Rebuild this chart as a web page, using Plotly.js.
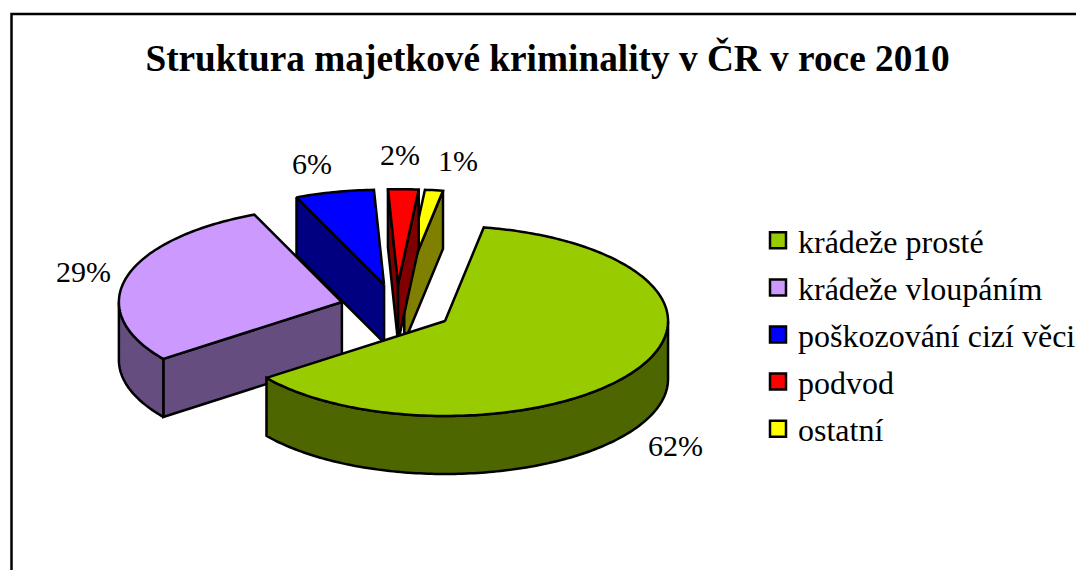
<!DOCTYPE html>
<html>
<head>
<meta charset="utf-8">
<script src="https://cdn.plot.ly/plotly-3.0.1.min.js"></script>
<style>html,body{margin:0;padding:0;background:#fff;overflow:hidden}#chart{width:1076px;height:570px}</style>
</head>
<body>
<div id="chart"></div>
<script>
// Data
const categories = ["krádeže prosté", "krádeže vloupáním", "poškozování cizí věci", "podvod", "ostatní"];
const shares = [62.0, 28.8, 5.7, 2.2, 1.3];
const topColors = ["#99CC00", "#CC99FF", "#0000FF", "#FF0000", "#FFFF00"];
const sideColors = ["#4D6600", "#664D80", "#000080", "#800000", "#808000"];
const chartTitle = "Struktura majetkové kriminality v ČR v roce 2010";

// Projection of the tilted pie
const pie = {cx: 396.7, cy: 308.3, rx: 223, ry: 95, depth: 58, explode: 0.2545, start: 10};
const labelPos = [[675, 445], [83, 271], [312, 163], [400, 154], [458, 160]];
const FONT = "Liberation Serif, Times New Roman, serif";

const rad = d => d * Math.PI / 180;
const total = shares.reduce((a, b) => a + b, 0);
let acc = pie.start;
const slices = shares.map((v, i) => {
  const a = acc, b = acc + v / total * 360;
  acc = b;
  const m = (a + b) / 2;
  return {i, a, b,
    ox: pie.cx + Math.sin(rad(m)) * pie.rx * pie.explode,
    oy: pie.cy - Math.cos(rad(m)) * pie.ry * pie.explode};
});
const rim = (s, t, dz = 0) => [s.ox + Math.sin(rad(t)) * pie.rx, s.oy - Math.cos(rad(t)) * pie.ry + dz];

function poly(pts, fill, name) {
  return {
    type: "scatter", mode: "lines", x: pts.map(p => p[0]), y: pts.map(p => p[1]),
    fill: "toself", fillcolor: fill, line: {color: "#000", width: 2.5, simplify: false},
    hoverinfo: "skip", showlegend: false, name: name
  };
}
function arc(s, from, to, dz) {
  const pts = [], n = Math.max(2, Math.ceil(Math.abs(to - from)));
  for (let k = 0; k <= n; k++) pts.push(rim(s, from + (to - from) * k / n, dz));
  return pts;
}

const traces = [];
// back-to-front painter's order
[4, 3, 2, 1, 0].forEach(idx => {
  const s = slices[idx], side = sideColors[idx], d = pie.depth, o = [s.ox, s.oy], od = [s.ox, s.oy + d];
  const name = categories[idx];
  // start cut wall
  if (Math.sin(rad(s.a)) < 0) traces.push(poly([o, rim(s, s.a), rim(s, s.a, d), od, o], side, name));
  // end cut wall
  if (Math.sin(rad(s.b)) > 0) traces.push(poly([o, rim(s, s.b), rim(s, s.b, d), od, o], side, name));
  // outer wall: the part of the arc facing the viewer (90..270 degrees)
  const lo = Math.max(s.a, 90), hi = Math.min(s.b, 270);
  if (hi > lo) traces.push(poly(arc(s, lo, hi, 0).concat(arc(s, hi, lo, d), [rim(s, lo)]), side, name));
  // top
  traces.push(poly([o].concat(arc(s, s.a, s.b, 0), [o]), topColors[idx], name));
});

// legend entries
categories.forEach((c, i) => traces.push({
  type: "scatter", mode: "markers", x: [-100], y: [-100], name: c, legendgroup: "g" + i,
  marker: {symbol: "square", size: 16, color: topColors[i], line: {color: "#000", width: 2.5}},
  hoverinfo: "skip", showlegend: true
}));

const layout = {
  width: 1076, height: 570, margin: {l: 0, r: 0, t: 0, b: 0, autoexpand: false},
  paper_bgcolor: "#fff", plot_bgcolor: "#fff",
  font: {family: FONT, color: "#000"},
  xaxis: {range: [0, 1076], visible: false, fixedrange: true},
  yaxis: {range: [570, 0], visible: false, fixedrange: true},
  title: {text: "<b>" + chartTitle + "</b>", font: {family: FONT, size: 37.3, color: "#000"},
          x: 547.5 / 1076, xanchor: "center", y: 1 - 58 / 570, yanchor: "middle"},
  legend: {x: 758 / 1076, y: 1 - 213 / 570, xanchor: "left", yanchor: "top",
           font: {family: FONT, size: 32, color: "#000"}, tracegroupgap: 2.5,
           bgcolor: "rgba(0,0,0,0)", itemclick: false, itemdoubleclick: false},
  shapes: [{type: "path", xref: "x", yref: "y", path: "M 11.5 570 L 11.5 14 L 1076 14",
            line: {color: "#000", width: 2.5}, layer: "below"}],
  annotations: shares.map((v, i) => ({
    x: labelPos[i][0], y: labelPos[i][1], xref: "x", yref: "y", text: Math.round(v) + "%", showarrow: false,
    font: {family: FONT, size: 30, color: "#000"}, xanchor: "center", yanchor: "middle"
  }))
};
Plotly.newPlot("chart", traces, layout, {displayModeBar: false, staticPlot: true});
</script>
</body>
</html>
